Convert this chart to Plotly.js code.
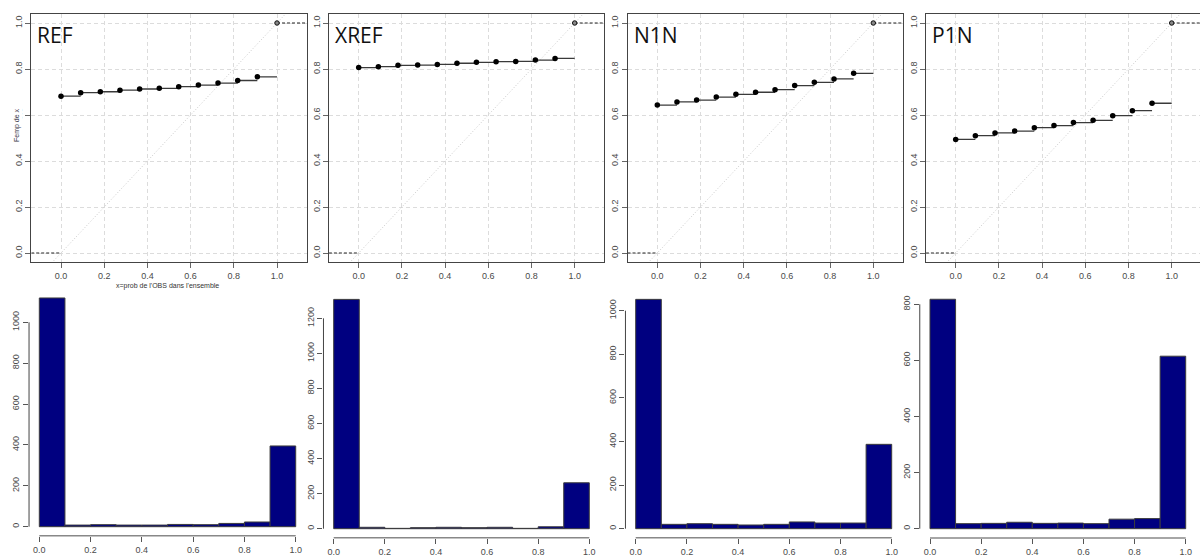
<!DOCTYPE html>
<html>
<head>
<meta charset="utf-8">
<script src="https://cdn.plot.ly/plotly-3.0.1.min.js"></script>
<style>html,body{margin:0;padding:0;background:#fff;}#chart{width:1200px;height:559px;}</style>
</head>
<body>
<div id="chart"></div>
<script>
// ---------------- DATA ----------------
const panelNames = ['REF', 'XREF', 'N1N', 'P1N'];
// probability positions of the ECDF steps
const xProb = [0, 0.091, 0.182, 0.273, 0.364, 0.455, 0.545, 0.636, 0.727, 0.818, 0.909];
const refY  = [0.682, 0.697, 0.701, 0.708, 0.713, 0.716, 0.723, 0.730, 0.739, 0.750, 0.766];
const xrefY = [0.806, 0.810, 0.816, 0.817, 0.820, 0.825, 0.829, 0.832, 0.833, 0.839, 0.846];
const n1nY  = [0.643, 0.657, 0.665, 0.678, 0.690, 0.699, 0.710, 0.728, 0.742, 0.757, 0.781];
const p1nY  = [0.494, 0.510, 0.522, 0.530, 0.545, 0.554, 0.567, 0.577, 0.597, 0.619, 0.651];
const endPoint = [1, 1];          // final ECDF point
const tailLeft = [-0.3, 0];       // ECDF tail at 0
const tailRight = [1, 1.3];       // ECDF tail at 1
const diag = [-0.3, 1.3];         // y = x reference line

// histogram bins
const binCenters = [0.05, 0.15, 0.25, 0.35, 0.45, 0.55, 0.65, 0.75, 0.85, 0.95];
const binWidth = 0.1;
const refCounts  = [1119, 8, 10, 8, 8, 11, 10, 16, 23, 395];
const xrefCounts = [1308, 8, 2, 6, 8, 6, 8, 2, 11, 262];
const n1nCounts  = [1052, 20, 23, 20, 17, 20, 31, 26, 26, 387];
const p1nCounts  = [818, 18, 19, 23, 19, 20, 18, 34, 36, 615];

const probTicks = [0, 0.2, 0.4, 0.6, 0.8, 1.0];
const probTickLabels = ['0.0', '0.2', '0.4', '0.6', '0.8', '1.0'];
const yLabel = 'Femp de x';
const xLabel = "x=prob de l'OBS dans l'ensemble";

const ecdfSets = [refY, xrefY, n1nY, p1nY];
const countSets = [refCounts, xrefCounts, n1nCounts, p1nCounts];

// ---------------- LAYOUT GEOMETRY (pixels) ----------------
const W = 1200, H = 559;
const fx = p => p / W;
const fy = p => 1 - p / H;
const topX0 = [61, 358.7, 657.3, 955.7];
const topScale = 216;
const topBoxL = [31.4, 329.1, 627.7, 926.1];
const topBoxR = [306.6, 604.3, 902.9, 1200];
const topBoxT = 13.5, topBoxB = 262.3, topY1 = 23, topY0 = 253;
const botX0 = [39.3, 333.7, 635.7, 930];
const botX1 = [295.7, 589.3, 891.7, 1185.7];
const botY0 = [526.7, 528.7, 528.7, 528.7];
const botScale = [0.2044, 0.1753, 0.218, 0.2805];

const tickFont = {family: 'Liberation Sans, Arial, sans-serif', size: 9, color: '#4a4a4a'};
const traces = [];
const layout = {
  width: W, height: H,
  margin: {l: 0, r: 0, t: 0, b: 0},
  paper_bgcolor: '#fff', plot_bgcolor: '#fff',
  showlegend: false,
  annotations: [], shapes: []
};

for (let i = 0; i < 4; i++) {
  const xa = 'x' + (i + 1), ya = 'y' + (i + 1);
  const yv = ecdfSets[i];
  const sx = [], sy = [];
  for (let k = 0; k < xProb.length; k++) {
    const xn = k + 1 < xProb.length ? xProb[k + 1] : endPoint[0];
    sx.push(xProb[k], xn, null);
    sy.push(yv[k], yv[k], null);
  }
  traces.push({x: diag, y: diag, xaxis: xa, yaxis: ya, mode: 'lines',
    line: {color: '#c8c8c8', width: 1, dash: '1px,2px'}, hoverinfo: 'skip'});
  traces.push({x: tailLeft, y: [0, 0], xaxis: xa, yaxis: ya, mode: 'lines',
    line: {color: '#222', width: 1, dash: '3px,2px'}, hoverinfo: 'skip'});
  traces.push({x: tailRight, y: [endPoint[1], endPoint[1]], xaxis: xa, yaxis: ya, mode: 'lines',
    line: {color: '#222', width: 1, dash: '3px,2px'}, hoverinfo: 'skip'});
  traces.push({x: sx, y: sy, xaxis: xa, yaxis: ya, mode: 'lines',
    line: {color: '#3a3a3a', width: 1.3}, hoverinfo: 'skip'});
  traces.push({x: xProb, y: yv, xaxis: xa, yaxis: ya, mode: 'markers',
    marker: {color: '#000', size: 5.5}});
  traces.push({x: [endPoint[0]], y: [endPoint[1]], xaxis: xa, yaxis: ya, mode: 'markers',
    marker: {color: '#888', size: 4.5, line: {color: '#111', width: 1}}});

  const x0 = topX0[i];
  layout['xaxis' + (i + 1)] = {
    domain: [fx(topBoxL[i]), fx(topBoxR[i])],
    range: [(topBoxL[i] - x0) / topScale, (topBoxR[i] - x0) / topScale],
    anchor: ya, tickmode: 'array', tickvals: probTicks, ticktext: probTickLabels,
    ticks: 'outside', ticklen: 5, tickcolor: '#666', tickfont: tickFont,
    showgrid: true, gridcolor: '#dcdcdc', griddash: '4px,3px', gridwidth: 1,
    showline: true, linecolor: '#444', linewidth: 1, mirror: true, zeroline: false
  };
  layout['yaxis' + (i + 1)] = {
    domain: [fy(topBoxB), fy(topBoxT)],
    range: [-(topBoxB - topY0) / (topY0 - topY1), 1 + (topY1 - topBoxT) / (topY0 - topY1)],
    anchor: xa, tickmode: 'array', tickvals: probTicks, ticktext: probTickLabels,
    ticks: 'outside', ticklen: 5, tickcolor: '#666', tickfont: tickFont, tickangle: -90,
    showgrid: true, gridcolor: '#dcdcdc', griddash: '4px,3px', gridwidth: 1,
    showline: true, linecolor: '#444', linewidth: 1, mirror: true, zeroline: false
  };
  layout.annotations.push({
    text: panelNames[i], xref: 'paper', yref: 'paper',
    x: fx(topBoxL[i] + 4), y: fy(35), xanchor: 'left', yanchor: 'middle',
    showarrow: false, font: {family: 'Open Sans, Noto Sans, sans-serif', size: 21, color: '#111'}
  });

  const bxa = 'x' + (i + 5), bya = 'y' + (i + 5);
  const counts = countSets[i];
  const M = Math.max.apply(null, counts);
  traces.push({type: 'bar', x: binCenters, y: counts, width: binWidth,
    xaxis: bxa, yaxis: bya,
    marker: {color: '#000080', line: {color: '#3c3c3c', width: 1}}});
  const s = botX1[i] - botX0[i];
  const yBottom = botY0[i] + 0.04 * M * botScale[i];
  const yTop = botY0[i] - 1.04 * M * botScale[i];
  layout['xaxis' + (i + 5)] = {
    domain: [fx(botX0[i] - 0.04 * s), fx(botX1[i] + 0.04 * s)],
    range: [-0.04, 1.04], anchor: bya,
    tickmode: 'array', tickvals: probTicks, ticktext: probTickLabels,
    ticks: 'outside', ticklen: 5, tickcolor: '#555', tickfont: tickFont,
    showgrid: false, showline: false, zeroline: false
  };
  layout['yaxis' + (i + 5)] = {
    domain: [fy(yBottom), fy(yTop)],
    range: [-0.04 * M, 1.04 * M], anchor: bxa,
    dtick: 200, tick0: 0,
    ticks: 'outside', ticklen: 5, tickcolor: '#555', tickfont: tickFont, tickangle: -90,
    showgrid: false, showline: false, zeroline: false
  };
  const topTick = Math.floor(M / 200) * 200;
  layout.shapes.push({type: 'line', xref: bxa, yref: bya + ' domain',
    x0: probTicks[0], x1: probTicks[probTicks.length - 1], y0: 0, y1: 0,
    line: {color: '#888', width: 1.5}});
  layout.shapes.push({type: 'line', xref: bxa + ' domain', yref: bya,
    x0: 0, x1: 0, y0: 0, y1: topTick,
    line: {color: '#444', width: 1}});
}

layout.annotations.push({
  text: yLabel, xref: 'paper', yref: 'paper', x: fx(17), y: fy(125),
  xanchor: 'center', yanchor: 'middle', textangle: -90, showarrow: false,
  bgcolor: '#fff', font: {family: 'Liberation Sans, Arial, sans-serif', size: 7, color: '#334'}
});
layout.annotations.push({
  text: xLabel, xref: 'paper', yref: 'paper', x: fx(167), y: fy(286),
  xanchor: 'center', yanchor: 'middle', showarrow: false,
  font: {family: 'Liberation Sans, Arial, sans-serif', size: 7, color: '#333'}
});

Plotly.newPlot('chart', traces, layout, {staticPlot: true, displayModeBar: false});
</script>
</body>
</html>
